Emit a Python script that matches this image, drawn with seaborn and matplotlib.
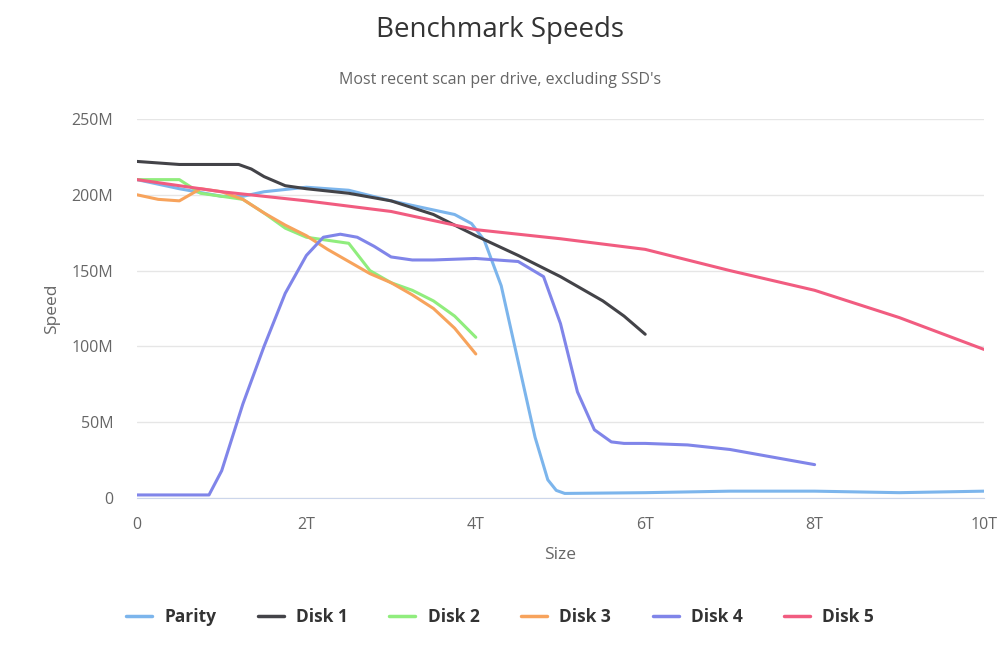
import pandas as pd
import matplotlib.pyplot as plt
import seaborn as sns

# values: size in T, speed in M
parity_x = [0, 0.5, 1, 1.25, 1.5, 2, 2.5, 3, 3.5, 3.75, 3.95, 4.1, 4.3, 4.5, 4.7, 4.85, 4.95, 5.05, 6, 7, 8, 9, 10]
parity_y = [210, 204, 199, 199, 202, 205, 203, 196, 190, 187, 181, 170, 140, 90, 40, 12, 5, 3, 3.5, 4.5, 4.5, 3.5, 4.5]

disk1_x = [0, 0.5, 1, 1.2, 1.35, 1.5, 1.75, 2, 2.5, 3, 3.5, 4, 4.5, 5, 5.5, 5.75, 6]
disk1_y = [222, 220, 220, 220, 217, 212, 206, 204, 201, 196, 187, 173, 160, 146, 130, 120, 108]

disk2_x = [0, 0.25, 0.5, 0.75, 1, 1.25, 1.5, 1.75, 2, 2.25, 2.5, 2.75, 3, 3.25, 3.5, 3.75, 4]
disk2_y = [210, 210, 210, 201, 199, 197, 188, 178, 172, 170, 168, 150, 142, 137, 130, 120, 106]

disk3_x = [0, 0.25, 0.5, 0.75, 1, 1.25, 1.5, 1.75, 2, 2.25, 2.5, 2.75, 3, 3.25, 3.5, 3.75, 4]
disk3_y = [200, 197, 196, 204, 202, 197, 188, 180, 173, 164, 156, 148, 142, 134, 125, 112, 95]

disk4_x = [0, 0.5, 0.85, 1, 1.25, 1.5, 1.75, 2, 2.2, 2.4, 2.6, 2.8, 3, 3.25, 3.5, 4, 4.5, 4.8, 5,
           5.2, 5.4, 5.6, 5.75, 6, 6.5, 7, 7.5, 8]
disk4_y = [2, 2, 2, 18, 62, 100, 135, 160, 172, 174, 172, 166, 159, 157, 157, 158, 156, 146, 115,
           70, 45, 37, 36, 36, 35, 32, 27, 22]

disk5_x = [0, 1, 2, 3, 4, 5, 6, 7, 8, 9, 10]
disk5_y = [210, 202, 196, 189, 177, 171, 164, 150, 137, 119, 98]

names = ['Parity', 'Disk 1', 'Disk 2', 'Disk 3', 'Disk 4', 'Disk 5']
colors = ['#7cb5ec', '#434348', '#90ed7d', '#f7a35c', '#8085e9', '#f15c80']
xs = [parity_x, disk1_x, disk2_x, disk3_x, disk4_x, disk5_x]
ys = [parity_y, disk1_y, disk2_y, disk3_y, disk4_y, disk5_y]

frames = []
for n, x, y in zip(names, xs, ys):
    frames.append(pd.DataFrame({'Size': x, 'Speed': y, 'Drive': n}))
data = pd.concat(frames, ignore_index=True)

sns.set_style('white')
plt.rcParams['font.family'] = ['Open Sans', 'DejaVu Sans']

fig = plt.figure(figsize=(10, 6.67), dpi=100)
ax = fig.add_axes([0.137, 0.2534, 0.847, 0.5682])

sns.lineplot(data=data, x='Size', y='Speed', hue='Drive', palette=colors,
             hue_order=names, sort=False, estimator=None, linewidth=2.2, ax=ax)

ax.set_xlim(0, 10)
ax.set_ylim(0, 250)
ax.set_xticks([0, 2, 4, 6, 8, 10])
ax.set_xticklabels(['0', '2T', '4T', '6T', '8T', '10T'])
ax.set_yticks([0, 50, 100, 150, 200, 250])
ax.set_yticklabels(['0', '50M', '100M', '150M', '200M', '250M'])
ax.grid(axis='y', color='#e6e6e6', linewidth=1)
ax.set_axisbelow(True)
for s in ['top', 'right', 'left']:
    ax.spines[s].set_visible(False)
ax.spines['bottom'].set_color('#ccd6eb')
ax.tick_params(axis='x', colors='#ccd6eb', length=10, width=1, direction='out', labelcolor='#666666',
               labelsize=11.5, pad=4)
ax.tick_params(axis='y', length=0, labelcolor='#666666', labelsize=11.5, pad=17)

ax.set_xlabel('Size', color='#666666', fontsize=12.5, labelpad=10)
ax.set_ylabel('Speed', color='#666666', fontsize=12.5, labelpad=8)

fig.text(0.5, 0.955, 'Benchmark Speeds', ha='center', va='center', fontsize=20, color='#333333')
fig.text(0.5, 0.88, "Most recent scan per drive, excluding SSD's", ha='center', va='center',
         fontsize=11.5, color='#666666')

ax.legend_.remove()
handles, labels = ax.get_legend_handles_labels()
leg = fig.legend(handles, labels, loc='center', bbox_to_anchor=(0.5, 0.075), ncol=6, frameon=False,
                 handlelength=1.5, columnspacing=2.4, handletextpad=0.7, prop={'weight': 'bold', 'size': 12.5})
for t in leg.get_texts():
    t.set_color('#333333')
for l in leg.get_lines():
    l.set_linewidth(2.5)

fig.savefig('out.png', dpi=100)
